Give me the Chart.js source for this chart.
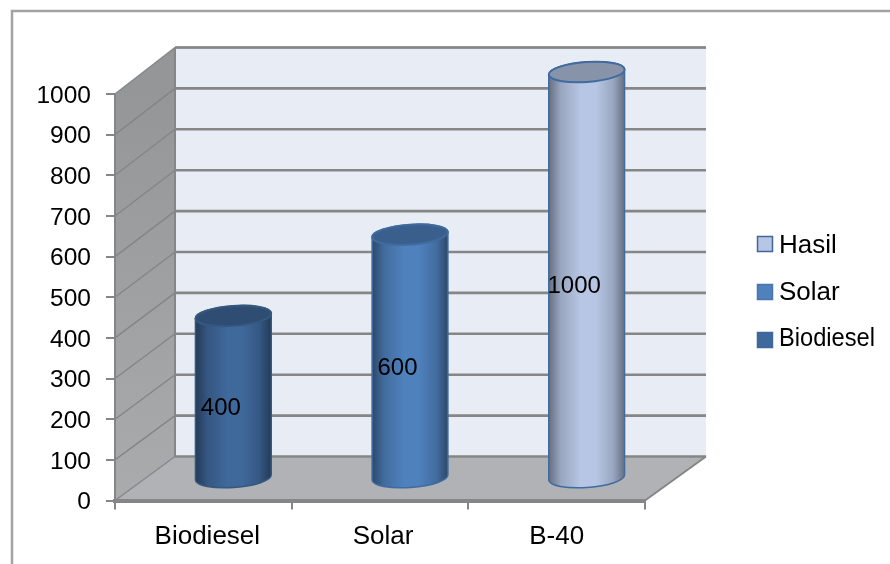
<!DOCTYPE html>
<html>
<head>
<meta charset="utf-8">
<style>
  html, body { margin: 0; padding: 0; background: #fff; }
  #wrap { width: 890px; height: 564px; overflow: hidden; }
</style>
<script src="https://cdn.jsdelivr.net/npm/chart.js@4/dist/chart.umd.js"></script>
</head>
<body>
<div id="wrap"><canvas id="c" width="890" height="564"></canvas></div>
<script>
const categories = ['Biodiesel', 'Solar', 'B-40'];
const biodieselValues = [400, null, null];
const solarValues = [null, 600, null];
const hasilValues = [null, null, 1000];
const axisMin = 0;
const axisMax = 1000;
const axisStep = 100;

const FONT = '"Liberation Sans", Arial, sans-serif';
const LINE = '#868686';
// Oblique offset between the front plane of the box and its back wall.
const DEPTH_X = 60;
const DEPTH_Y = -44;
const BACK_STRETCH = 1.0062;

function shade(hex, f) {
  const n = parseInt(hex.slice(1), 16);
  const ch = s => Math.round(((n >> s) & 255) * f);
  return `rgb(${ch(16)},${ch(8)},${ch(0)})`;
}

// Bar element drawn as an upright cylinder standing mid-way along the floor depth.
class CylinderBar extends Chart.BarElement {
  draw(ctx) {
    const { x, y, base, width } = this.getProps(['x', 'y', 'base', 'width']);
    const { backgroundColor: color, borderColor } = this.options;
    if (!Number.isFinite(y) || y === base) return;
    const cx = x + DEPTH_X / 2;
    const topY = y + DEPTH_Y / 2;
    const botY = base + DEPTH_Y / 2;
    const rx = width / 2;
    const ry = 10;
    const tilt = -0.07;

    const g = ctx.createLinearGradient(cx - rx, 0, cx + rx, 0);
    g.addColorStop(0, shade(color, 0.56));
    g.addColorStop(0.16, shade(color, 0.84));
    g.addColorStop(0.42, shade(color, 1));
    g.addColorStop(0.62, shade(color, 1));
    g.addColorStop(0.85, shade(color, 0.84));
    g.addColorStop(1, shade(color, 0.56));

    ctx.save();
    ctx.beginPath();
    ctx.ellipse(cx, botY, rx, ry, tilt, 0, Math.PI);
    ctx.ellipse(cx, topY, rx, ry, tilt, Math.PI, Math.PI * 2);
    ctx.closePath();
    ctx.fillStyle = g;
    ctx.fill();
    ctx.strokeStyle = borderColor;
    ctx.lineWidth = 1.5;
    ctx.stroke();

    ctx.beginPath();
    ctx.ellipse(cx, topY, rx, ry, tilt, 0, Math.PI * 2);
    ctx.fillStyle = shade(color, 0.74);
    ctx.fill();
    ctx.strokeStyle = borderColor;
    ctx.lineWidth = 2;
    ctx.stroke();
    ctx.restore();
  }
}
CylinderBar.id = 'cylinderBar';
CylinderBar.defaults = Chart.BarElement.defaults;

class CylinderController extends Chart.BarController {}
CylinderController.id = 'cylinder';
CylinderController.defaults = { ...Chart.BarController.defaults, dataElementType: 'cylinderBar' };
CylinderController.overrides = Chart.BarController.overrides;
Chart.register(CylinderBar, CylinderController);

// Small optical offsets for the tick labels of both axes.
const tickNudgePlugin = {
  id: 'tickNudge',
  beforeDraw(chart) {
    const xShift = [4, 3, 0];
    chart.scales.x.getLabelItems().forEach((it, i) => {
      it.options.translation[0] += xShift[i] || 0;
    });
    chart.scales.y.getLabelItems().forEach(it => {
      it.options.translation[1] += 2;
    });
  }
};

// Outer frame, walls, floor and the gridlines wrapping around them.
const boxPlugin = {
  id: 'box',
  beforeDraw(chart) {
    const { ctx } = chart;
    const ys = chart.scales.y;
    const { left, right, top, bottom } = chart.chartArea;
    const backX0 = left + DEPTH_X;
    const backX1 = right + DEPTH_X + 1;
    const backBottom = bottom + DEPTH_Y;
    const backOf = py => backBottom + (py - bottom) * BACK_STRETCH;
    const backTop = backOf(top);

    ctx.save();
    ctx.strokeStyle = '#a3a3a3';
    ctx.lineWidth = 2.5;
    ctx.strokeRect(12, 11, 900, 600);

    ctx.fillStyle = '#e8ecf5';
    ctx.fillRect(backX0, backTop, backX1 - backX0, backBottom - backTop);

    const side = ctx.createLinearGradient(0, top, 0, bottom);
    side.addColorStop(0, '#959698');
    side.addColorStop(1, '#aaabad');
    ctx.fillStyle = side;
    ctx.beginPath();
    ctx.moveTo(left, top);
    ctx.lineTo(backX0, backTop);
    ctx.lineTo(backX0, backBottom);
    ctx.lineTo(left, bottom);
    ctx.closePath();
    ctx.fill();

    ctx.fillStyle = '#b0b2b5';
    ctx.beginPath();
    ctx.moveTo(left, bottom);
    ctx.lineTo(backX0, backBottom);
    ctx.lineTo(backX1, backBottom);
    ctx.lineTo(right, bottom);
    ctx.closePath();
    ctx.fill();

    // Gridlines: faint along the side wall, heavier across the back wall.
    for (let v = axisMin; v <= axisMax; v += axisStep) {
      const py = ys.getPixelForValue(v);
      const by = backOf(py);
      ctx.strokeStyle = '#848587';
      ctx.lineWidth = 1.4;
      ctx.beginPath();
      ctx.moveTo(left, py);
      ctx.lineTo(backX0, by);
      ctx.stroke();
      ctx.strokeStyle = LINE;
      ctx.lineWidth = 2.6;
      ctx.beginPath();
      ctx.moveTo(backX0, by);
      ctx.lineTo(backX1, by);
      ctx.stroke();
    }
    ctx.strokeStyle = LINE;
    ctx.lineWidth = 2;
    ctx.beginPath();
    ctx.moveTo(backX0, backTop);
    ctx.lineTo(backX1, backTop);
    ctx.moveTo(backX0, backTop);
    ctx.lineTo(backX0, backBottom);
    ctx.moveTo(right, bottom);
    ctx.lineTo(backX1, backBottom);
    ctx.stroke();
    ctx.restore();
  }
};

// Value labels printed on the cylinders.
const valueLabelPlugin = {
  id: 'valueLabels',
  afterDatasetsDraw(chart) {
    const { ctx } = chart;
    ctx.save();
    ctx.font = `24px ${FONT}`;
    ctx.fillStyle = '#000';
    ctx.textAlign = 'center';
    ctx.textBaseline = 'middle';
    chart.data.datasets.forEach((ds, di) => {
      chart.getDatasetMeta(di).data.forEach((el, i) => {
        if (ds.data[i] === null) return;
        ctx.fillText(String(ds.data[i]), el.x + 17.5, (el.y + el.base) / 2 - 10);
      });
    });
    ctx.restore();
  }
};

// Series key on the right, listed back to front.
const keyPlugin = {
  id: 'seriesKey',
  afterDraw(chart) {
    const { ctx } = chart;
    const entries = chart.data.datasets.slice().reverse();
    ctx.save();
    entries.forEach((ds, i) => {
      const boxY = 236 + i * 48;
      ctx.fillStyle = ds.backgroundColor;
      ctx.fillRect(757, boxY, 16, 16);
      ctx.strokeStyle = ds.keyBorder;
      ctx.lineWidth = 1.5;
      ctx.strokeRect(757.5, boxY + 0.5, 15, 15);
      ctx.font = `26px ${FONT}`;
      ctx.fillStyle = '#000';
      ctx.textAlign = 'left';
      ctx.textBaseline = 'middle';
      ctx.fillText(ds.label, 779, 246 + i * 46.5, 96);
    });
    ctx.restore();
  }
};

new Chart(document.getElementById('c'), {
  type: 'cylinder',
  data: {
    labels: categories,
    datasets: [
      { label: 'Biodiesel', data: biodieselValues, clip: false, backgroundColor: '#3f689b', borderColor: '#35587f', keyBorder: '#3f689b' },
      { label: 'Solar', data: solarValues, clip: false, backgroundColor: '#4f81bd', borderColor: '#3f6b9f', keyBorder: '#4a76ab' },
      { label: 'Hasil', data: hasilValues, clip: false, backgroundColor: '#b6c6e4', borderColor: '#3f6b9f', keyBorder: '#3f6797' }
    ]
  },
  options: {
    responsive: false,
    animation: false,
    layout: { padding: { left: 0, right: 245, top: 94, bottom: 0 } },
    plugins: { legend: { display: false }, tooltip: { enabled: false }, title: { display: false } },
    datasets: { cylinder: { grouped: false, barPercentage: 1, categoryPercentage: 0.43 } },
    scales: {
      x: {
        type: 'category',
        offset: true,
        afterFit(s) { s.height = 63.5; },
        grid: { display: true, offset: true, drawOnChartArea: false, drawTicks: true, tickLength: 9, color: LINE, lineWidth: 2 },
        border: { display: true, color: LINE, width: 4 },
        ticks: { color: '#000', font: { family: FONT, size: 26 }, padding: 12, maxRotation: 0 }
      },
      y: {
        type: 'linear',
        min: axisMin,
        max: axisMax,
        afterFit(s) { s.width = 115; },
        grid: { display: true, drawOnChartArea: false, drawTicks: true, tickLength: 9, color: LINE, lineWidth: 2 },
        border: { display: true, color: LINE, width: 2 },
        ticks: { stepSize: axisStep, color: '#000', font: { family: FONT, size: 24.5 }, padding: 15, callback: v => String(v) }
      }
    }
  },
  plugins: [tickNudgePlugin, boxPlugin, valueLabelPlugin, keyPlugin]
});
</script>
</body>
</html>
